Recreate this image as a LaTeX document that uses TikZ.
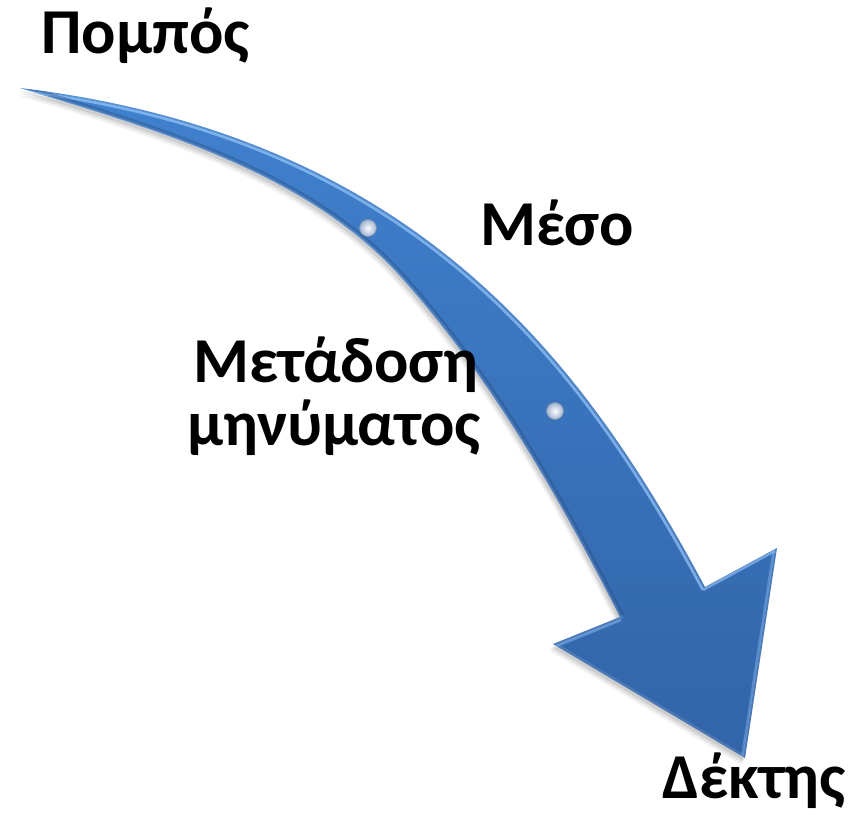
\documentclass[tikz,border=0pt]{standalone}
\usepackage{fontspec}
\setmainfont{Carlito}
\definecolor{blueA}{RGB}{64,129,206}
\definecolor{blueB}{RGB}{50,100,168}
\definecolor{hilite}{RGB}{140,190,245}
\definecolor{ballrim}{RGB}{160,178,208}
\newcommand{\arrowshape}{(20,88) .. controls (420,136) and (587,367) .. (705,587) -- (777,548) -- (745,758) -- (553,644) -- (620,617) .. controls (559,497) and (490,376) .. (400,276) .. controls (306,172) and (154,129) .. (20,88) -- cycle}
\newcommand{\upperedge}{(20,88) .. controls (420,136) and (587,367) .. (705,587)}
\newcommand{\loweredge}{(620,617) .. controls (559,497) and (490,376) .. (400,276) .. controls (306,172) and (154,129) .. (20,88)}
\begin{document}
\begin{tikzpicture}[x=1pt,y=-1pt,
  lbl/.style={font=\fontsize{64}{65}\selectfont\bfseries, inner sep=0pt, text=black},
  ballstyle/.style={inner color=white, outer color=ballrim}]
\useasboundingbox (0,0) rectangle (854,817);
% shadow
\foreach \d/\o in {7/0.05,5/0.07,3/0.09}{
  \fill[black, opacity=\o, shift={(-\d*0.5,\d)}] \arrowshape;
}
% body
\shade[top color=blueA, bottom color=blueB] \arrowshape;
\begin{scope}
  \clip \arrowshape;
  \draw[line width=5, white, opacity=0.12] \arrowshape;
  \draw[line width=2.5, hilite, opacity=0.8, shift={(-2.5,2.5)}] \upperedge;
  \draw[line width=2.5, hilite, opacity=0.6, shift={(-2,3)}] (705,587) -- (777,548);
  \draw[line width=2.5, hilite, opacity=0.4, shift={(-3,0)}] (777,548) -- (745,758);
  \draw[line width=2.5, hilite, opacity=0.5, shift={(1,3)}] (553,644) -- (620,617);
  \draw[line width=3, blueB!70!black, opacity=0.35, shift={(2.5,-2)}] \loweredge;
\end{scope}
% balls
\shade[ballstyle] (368,228) circle (8.5);
\draw[ballrim!80!black, line width=0.6] (368,228) circle (8.5);
\shade[ballstyle] (555,411) circle (8.5);
\draw[ballrim!80!black, line width=0.6] (555,411) circle (8.5);
% labels
\node[lbl, anchor=base west] (sender) at (41,53) {Πομπός};
\node[lbl, anchor=base west] (medium) at (480,245) {Μέσο};
\node[lbl, anchor=base] (msg1) at (336,382) {Μετάδοση};
\node[lbl, anchor=base] (msg2) at (334,445) {μηνύματος};
\node[lbl, anchor=base west] (receiver) at (662,798) {Δέκτης};
\end{tikzpicture}
\end{document}
